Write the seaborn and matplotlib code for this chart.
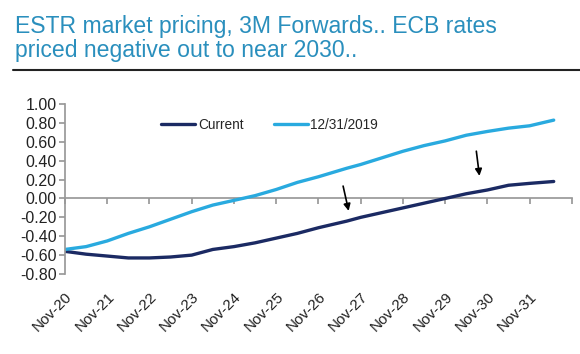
import pandas as pd
import matplotlib.pyplot as plt
import seaborn as sns
from matplotlib.lines import Line2D

sns.set_theme(style="white")
plt.rcParams['font.family'] = ['Liberation Sans', 'DejaVu Sans']

# years since Nov-2020
years = [0, 0.5, 1, 1.5, 2, 2.5, 3, 3.5, 4, 4.5, 5, 5.5, 6, 6.67, 7, 7.5,
         8, 8.5, 9, 9.5, 10, 10.5, 11, 11.57]
current = [-0.56, -0.59, -0.61, -0.63, -0.63, -0.62, -0.60, -0.54, -0.51, -0.47,
           -0.42, -0.37, -0.31, -0.24, -0.20, -0.15, -0.10, -0.05, 0.00, 0.05,
           0.09, 0.14, 0.16, 0.18]
dec2019 = [-0.54, -0.51, -0.45, -0.37, -0.30, -0.22, -0.14, -0.07, -0.02, 0.03,
           0.095, 0.17, 0.23, 0.32, 0.36, 0.43, 0.50, 0.56, 0.61, 0.67,
           0.71, 0.745, 0.77, 0.83]
series_names = ['Current', '12/31/2019']
tick_labels = ['Nov-20', 'Nov-21', 'Nov-22', 'Nov-23', 'Nov-24', 'Nov-25',
               'Nov-26', 'Nov-27', 'Nov-28', 'Nov-29', 'Nov-30', 'Nov-31', '']

df = pd.concat([
    pd.DataFrame({'t': years, 'rate': current, 'series': series_names[0]}),
    pd.DataFrame({'t': years, 'rate': dec2019, 'series': series_names[1]}),
])

fig = plt.figure(figsize=(5.8, 3.54), dpi=100)
ax = fig.add_axes([0.112, 0.226, 0.874, 0.48])

sns.lineplot(data=df, x='t', y='rate', hue='series', hue_order=series_names,
             palette=['#1b2a63', '#29aadf'], linewidth=2.4, ax=ax)

ax.set_xlim(0, 12)
ax.set_ylim(-0.8, 1.0)
ax.set_yticks([-0.8 + 0.2 * i for i in range(10)])
ax.set_yticklabels([f'{-0.8 + 0.2 * i:.2f}' for i in range(10)])
ax.set_xticks(range(13))
ax.set_xticklabels(tick_labels, rotation=45, ha='right', rotation_mode='anchor')
ax.set_xlabel('')
ax.set_ylabel('')

for s in ['top', 'right', 'bottom']:
    ax.spines[s].set_visible(False)
ax.spines['left'].set_color('#999999')
ax.tick_params(axis='y', left=True, direction='out', length=4, color='#999999',
               labelsize=11.5, labelcolor='#222222', pad=2)
ax.tick_params(axis='x', bottom=False, labelsize=11, labelcolor='#222222', pad=5)

# zero line as the category axis
sec = ax.secondary_xaxis(0.8 / 1.8)
sec.set_xticks(range(13))
sec.set_xticklabels([])
sec.spines['bottom'].set_color('#999999')
sec.tick_params(direction='out', length=4, color='#999999')

# arrows
ax.annotate('', xy=(6.73, -0.16), xytext=(6.57, 0.16),
            arrowprops=dict(arrowstyle='-|>', color='black', lw=1.2, mutation_scale=10))
ax.annotate('', xy=(9.82, 0.21), xytext=(9.73, 0.53),
            arrowprops=dict(arrowstyle='-|>', color='black', lw=1.2, mutation_scale=10))

leg = ax.legend(loc='center', bbox_to_anchor=(0.404, 0.876), ncol=2, frameon=False,
                fontsize=9.8, handlelength=2.5, handletextpad=0.2, columnspacing=2.2)

fig.text(0.026, 0.958, 'ESTR market pricing, 3M Forwards.. ECB rates\npriced negative out to near 2030..',
         fontsize=16.6, color='#2a8fbd', va='top', ha='left', linespacing=1.05)
fig.add_artist(Line2D([0.022, 1.0], [0.802, 0.802], color='#222222', lw=1.5,
                      transform=fig.transFigure))

plt.savefig('out.png', dpi=100)
